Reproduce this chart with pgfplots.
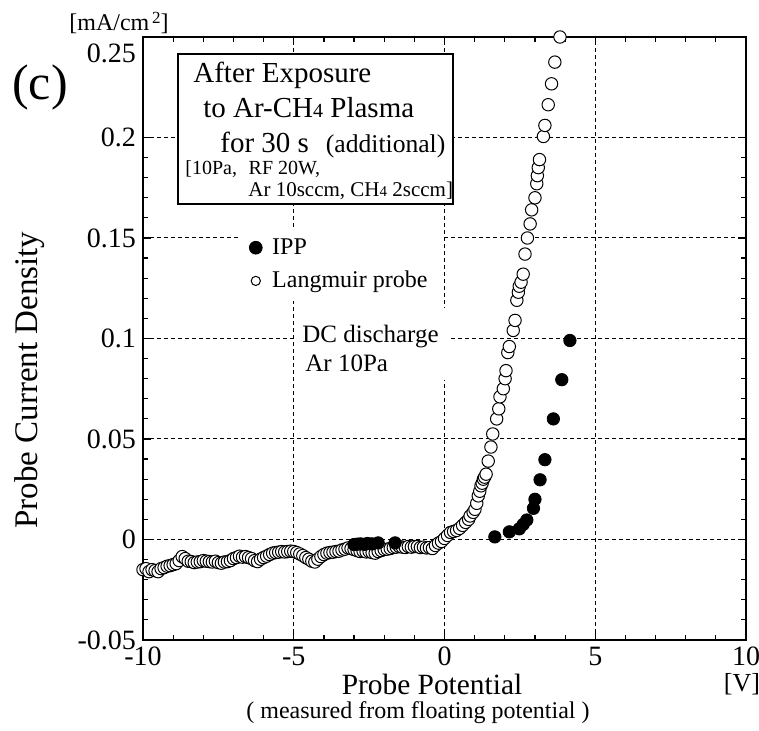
\documentclass[border=0pt]{standalone}
\usepackage{pgfplots}
\pgfplotsset{compat=1.18}
\usepackage{fontspec}
\setmainfont{Liberation Serif}
\begin{document}
\begin{tikzpicture}
\useasboundingbox (-71.5pt,-45.5pt) rectangle (308pt,320pt);
\begin{axis}[
  at={(0,0)}, anchor=south west,
  scale only axis, width=301.5pt, height=301.5pt,
  xmin=-10, xmax=10, ymin=-0.05, ymax=0.25,
  xtick={-10,-5,0,5,10}, xticklabels={-10,-5,0,5,10},
  ytick={-0.05,0,0.05,0.1,0.15,0.2},
  yticklabels={-0.05,0,0.05,0.1,0.15,0.2},
  extra y ticks={0.25}, extra y tick labels={0.25},
  extra y tick style={yticklabel style={yshift=-8pt}, grid=none},
  scaled ticks=false,
  minor x tick num=4, minor y tick num=4,
  tick align=inside, xtick pos=both, ytick pos=both,
  major tick length=4pt, minor tick length=2.5pt,
  every tick/.style={black, line width=0.6pt},
  grid=major,
  major grid style={dash pattern=on 2pt off 1.5pt, line width=0.5pt, black},
  axis line style={line width=0.9pt},
  tick label style={font=\fontsize{14}{14}\selectfont},
  clip=false,
  legend style={at={(0.1592,0.6833)}, anchor=north west, draw=none, fill=white,
    inner xsep=5pt, inner ysep=3pt, font=\fontsize{12}{14}\selectfont,
    row sep=3pt, cells={anchor=west},
    /tikz/every odd column/.append style={column sep=3pt}},
]
\addlegendimage{only marks, mark=*, mark size=3.2pt, fill=black, draw=black}
\addlegendentry{IPP}
\addlegendimage{only marks, mark=*, mark size=2.3pt, fill=white, draw=black, mark options={line width=0.5pt}}
\addlegendentry{Langmuir probe}

% Langmuir probe (open circles)
\addplot[only marks, mark=*, mark size=3.1pt, mark options={fill=white, draw=black, line width=0.5pt}, forget plot] table {
x y
-10.0 -0.015
-9.9 -0.0145
-9.8 -0.016
-9.7 -0.015
-9.6 -0.0155
-9.5 -0.016
-9.4 -0.0145
-9.3 -0.014
-9.2 -0.0133
-9.1 -0.013
-9.0 -0.0125
-8.9 -0.012
-8.8 -0.0105
-8.7 -0.0085
-8.6 -0.0095
-8.5 -0.0108
-8.4 -0.011
-8.3 -0.0115
-8.2 -0.0112
-8.1 -0.011
-8.0 -0.0105
-7.9 -0.0108
-7.8 -0.011
-7.7 -0.0112
-7.6 -0.0108
-7.5 -0.0115
-7.4 -0.0118
-7.3 -0.0112
-7.2 -0.011
-7.1 -0.0105
-7.0 -0.0095
-6.9 -0.009
-6.8 -0.0083
-6.7 -0.0088
-6.6 -0.0085
-6.5 -0.009
-6.4 -0.0095
-6.3 -0.0105
-6.2 -0.011
-6.1 -0.0098
-6.0 -0.009
-5.9 -0.0083
-5.8 -0.0075
-5.7 -0.0068
-5.6 -0.0065
-5.5 -0.0063
-5.4 -0.006
-5.3 -0.0062
-5.2 -0.006
-5.1 -0.0058
-5.0 -0.006
-4.9 -0.0065
-4.8 -0.0072
-4.7 -0.008
-4.6 -0.009
-4.5 -0.0098
-4.4 -0.0108
-4.3 -0.0112
-4.2 -0.0098
-4.1 -0.0085
-4.0 -0.0075
-3.9 -0.0068
-3.8 -0.0065
-3.7 -0.0063
-3.6 -0.006
-3.5 -0.0058
-3.4 -0.0052
-3.3 -0.0048
-3.2 -0.0042
-3.1 -0.0045
-3.0 -0.005
-2.9 -0.0055
-2.8 -0.006
-2.7 -0.0058
-2.6 -0.0062
-2.5 -0.006
-2.4 -0.0065
-2.3 -0.0068
-2.2 -0.006
-2.1 -0.0055
-2.0 -0.005
-1.9 -0.0048
-1.8 -0.0045
-1.7 -0.004
-1.6 -0.0038
-1.5 -0.0035
-1.4 -0.0038
-1.3 -0.004
-1.2 -0.0035
-1.1 -0.0038
-1.0 -0.0035
-0.9 -0.0035
-0.8 -0.004
-0.7 -0.0038
-0.6 -0.0042
-0.5 -0.004
-0.4 -0.0045
-0.3 -0.003
-0.2 -0.0018
-0.1 -0.001
0.0 0.0005
0.1 0.002
0.2 0.0035
0.3 0.004
0.4 0.0045
0.5 0.0055
0.6 0.007
0.7 0.0085
0.8 0.010
0.85 0.0117
0.95 0.0135
1.01 0.015
1.07 0.018
1.12 0.0217
1.17 0.024
1.21 0.0267
1.25 0.028
1.29 0.030
1.33 0.031
1.38 0.0325
1.45 0.039
1.54 0.046
1.60 0.0525
1.73 0.060
1.80 0.065
1.84 0.071
1.95 0.075
2.01 0.080
2.04 0.084
2.10 0.093
2.15 0.096
2.28 0.104
2.34 0.109
2.40 0.119
2.45 0.123
2.48 0.126
2.54 0.128
2.61 0.132
2.67 0.142
2.75 0.150
2.84 0.157
2.89 0.164
3.00 0.170
3.06 0.177
3.08 0.181
3.11 0.185
3.15 0.189
3.28 0.2005
3.33 0.206
3.44 0.2163
3.55 0.2267
3.66 0.2375
3.83 0.25
};

% IPP (filled circles)
\addplot[only marks, mark=*, mark size=3.1pt, mark options={fill=black, draw=black}, forget plot] table {
x y
-3.00 -0.0025
-2.88 -0.0023
-2.78 -0.0022
-2.65 -0.0024
-2.55 -0.0020
-2.40 -0.0022
-2.20 -0.0017
-1.64 -0.0017
1.67 0.0013
2.15 0.0038
2.48 0.0053
2.61 0.0075
2.73 0.0097
2.95 0.0155
3.00 0.020
3.17 0.0297
3.33 0.0397
3.61 0.060
3.89 0.0795
4.16 0.099
};
\end{axis}

% annotation box
\draw[fill=white, line width=0.8pt] (17.5pt,218pt) rectangle (155pt,293pt);
\node[anchor=base west, inner sep=0pt, font=\fontsize{14.5}{14.5}\selectfont] at (25pt,278.5pt) {After Exposure};
\node[anchor=base west, inner sep=0pt, font=\fontsize{14.5}{14.5}\selectfont] at (30pt,261pt) {to Ar-CH{\fontsize{10}{10}\selectfont 4} Plasma};
\node[anchor=base west, inner sep=0pt, font=\fontsize{14.5}{14.5}\selectfont] at (38.5pt,243.5pt) {for 30 s\,\, {\fontsize{12.8}{12.8}\selectfont(additional)}};
\node[anchor=base west, inner sep=0pt, font=\fontsize{10}{10}\selectfont] at (21pt,232.5pt) {[10Pa,\,\, RF 20W,};
\node[anchor=base west, inner sep=0pt, font=\fontsize{10.5}{10.5}\selectfont] at (52.5pt,221.5pt) {Ar 10sccm, CH{\fontsize{7.5}{7.5}\selectfont 4} 2sccm]};

% DC discharge label
\fill[white] (77pt,130pt) rectangle (152.5pt,166pt);
\node[anchor=base west, inner sep=0pt, font=\fontsize{12.5}{12.5}\selectfont] at (79.5pt,148.5pt) {DC discharge};
\node[anchor=base west, inner sep=0pt, font=\fontsize{12.5}{12.5}\selectfont] at (81pt,134pt) {Ar 10Pa};

% outer labels
\node[rotate=90, font=\fontsize{16.5}{16.5}\selectfont] at (-56.5pt,130pt) {Probe Current Density};
\node[font=\fontsize{14.7}{14.7}\selectfont] at (144.5pt,-22pt) {Probe Potential};
\node[font=\fontsize{12}{12}\selectfont] at (137.5pt,-36.5pt) {( measured from floating potential )};
\node[font=\fontsize{13}{13}\selectfont] at (299.5pt,-22pt) {[V]};
\node[font=\fontsize{12}{12}\selectfont] at (-12pt,308.5pt) {[mA/cm\raisebox{0.6ex}{\fontsize{8.5}{8.5}\selectfont\,2}]};
\node[font=\fontsize{25}{25}\selectfont] at (-51.5pt,276.5pt) {(c)};
\node[anchor=base west, inner sep=0pt, font=\fontsize{12}{12}\selectfont] at (-33pt,-55pt) {[mA/cm\raisebox{0.6ex}{\fontsize{8.5}{8.5}\selectfont\,2}]};
\end{tikzpicture}
\end{document}
